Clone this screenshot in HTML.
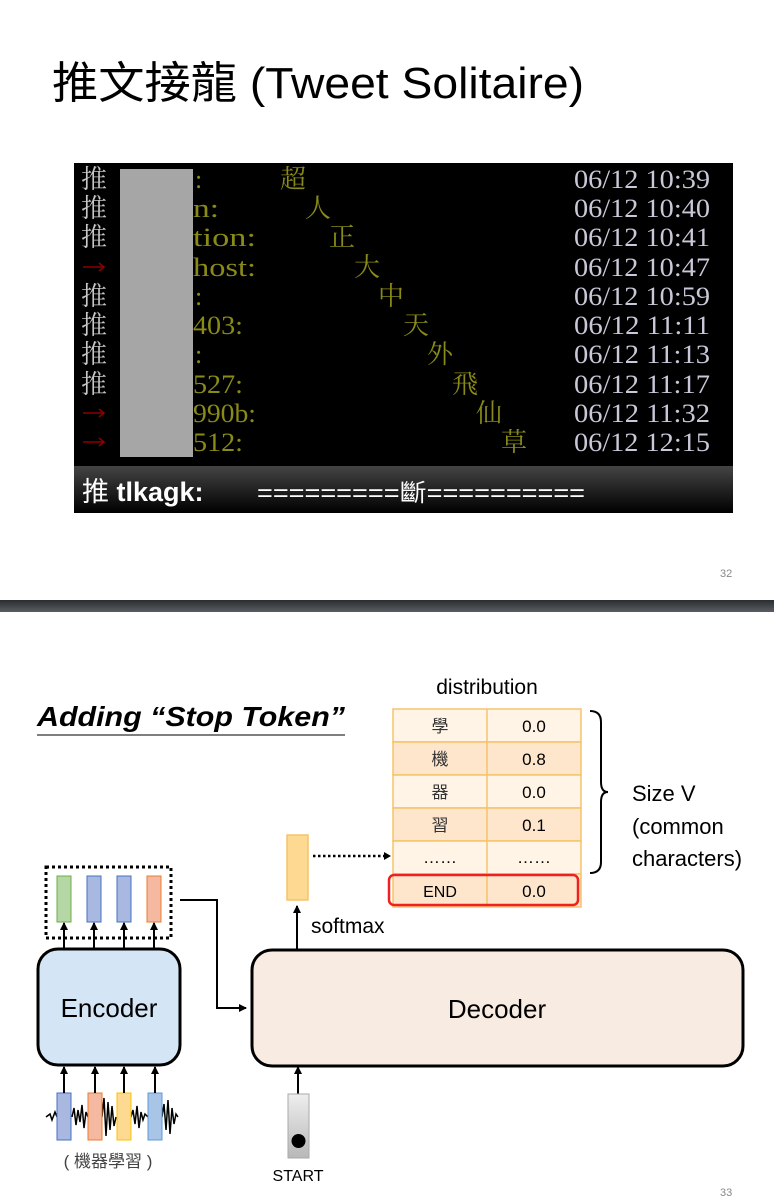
<!DOCTYPE html>
<html><head><meta charset="utf-8"><style>
html,body{margin:0;padding:0;background:#fff;width:774px;height:1202px;overflow:hidden}
svg{display:block}
.s{font-family:"Liberation Sans","Noto Sans CJK TC",sans-serif}
.m{font-family:"Liberation Serif","Noto Serif CJK SC",serif}
</style></head><body>
<svg width="774" height="1202" viewBox="0 0 774 1202" xmlns="http://www.w3.org/2000/svg">
<defs>
<linearGradient id="bar" x1="0" y1="0" x2="0" y2="1"><stop offset="0" stop-color="#444"/><stop offset="1" stop-color="#000"/></linearGradient>
<linearGradient id="sep" x1="0" y1="0" x2="0" y2="1"><stop offset="0" stop-color="#2a2d30"/><stop offset="1" stop-color="#5a5e62"/></linearGradient>
<linearGradient id="gr" x1="0" y1="0" x2="0" y2="1"><stop offset="0" stop-color="#eee"/><stop offset="1" stop-color="#b8b8b8"/></linearGradient>
<marker id="ah" markerWidth="8" markerHeight="8" refX="7" refY="4" orient="auto" markerUnits="userSpaceOnUse"><path d="M0,0 L8,4 L0,8 z" fill="#000"/></marker>
</defs>
<!-- slide 32 -->
<text x="52" y="98" class="s" font-size="44" textLength="532" lengthAdjust="spacingAndGlyphs">推文接龍 (Tweet Solitaire)</text>
<rect x="74" y="163" width="659" height="350" fill="#000"/>
<rect x="120" y="169" width="73" height="288" fill="#a6a6a6"/>
<g class="m" font-size="26">
<g fill="#c8c8c8">
<text x="81" y="188">推</text><text x="81" y="217">推</text><text x="81" y="246">推</text>
<text x="81" y="305">推</text><text x="81" y="334">推</text><text x="81" y="363">推</text><text x="81" y="393">推</text>
</g>
<g stroke="#8b0000" stroke-width="1.5" fill="none">
<path d="M83,267 H104 M99,263 L104,267 L99,271"/>
<path d="M83,413 H104 M99,409 L104,413 L99,417"/>
<path d="M83,442 H104 M99,438 L104,442 L99,446"/>
</g>
<g fill="#8a8a18" lengthAdjust="spacingAndGlyphs">
<text x="195" y="188">:</text>
<text x="193" y="217" textLength="26" lengthAdjust="spacingAndGlyphs">n:</text>
<text x="193" y="246" textLength="63" lengthAdjust="spacingAndGlyphs">tion:</text>
<text x="193" y="276" textLength="63" lengthAdjust="spacingAndGlyphs">host:</text>
<text x="195" y="305">:</text>
<text x="193" y="334" textLength="50" lengthAdjust="spacingAndGlyphs">403:</text>
<text x="195" y="363">:</text>
<text x="193" y="393" textLength="50" lengthAdjust="spacingAndGlyphs">527:</text>
<text x="193" y="422" textLength="63" lengthAdjust="spacingAndGlyphs">990b:</text>
<text x="193" y="451" textLength="50" lengthAdjust="spacingAndGlyphs">512:</text>
<text x="280" y="188">超</text><text x="305" y="217">人</text><text x="329" y="246">正</text><text x="354" y="276">大</text>
<text x="378" y="305">中</text><text x="403" y="334">天</text><text x="427" y="363">外</text><text x="452" y="393">飛</text>
<text x="476" y="422">仙</text><text x="501" y="451">草</text>
</g>
<g fill="#c8c8d8">
<text x="574" y="188" textLength="136" lengthAdjust="spacingAndGlyphs">06/12 10:39</text>
<text x="574" y="217" textLength="136" lengthAdjust="spacingAndGlyphs">06/12 10:40</text>
<text x="574" y="246" textLength="136" lengthAdjust="spacingAndGlyphs">06/12 10:41</text>
<text x="574" y="276" textLength="136" lengthAdjust="spacingAndGlyphs">06/12 10:47</text>
<text x="574" y="305" textLength="136" lengthAdjust="spacingAndGlyphs">06/12 10:59</text>
<text x="574" y="334" textLength="136" lengthAdjust="spacingAndGlyphs">06/12 11:11</text>
<text x="574" y="363" textLength="136" lengthAdjust="spacingAndGlyphs">06/12 11:13</text>
<text x="574" y="393" textLength="136" lengthAdjust="spacingAndGlyphs">06/12 11:17</text>
<text x="574" y="422" textLength="136" lengthAdjust="spacingAndGlyphs">06/12 11:32</text>
<text x="574" y="451" textLength="136" lengthAdjust="spacingAndGlyphs">06/12 12:15</text>
</g>
</g>
<rect x="74" y="466" width="659" height="47" fill="url(#bar)"/>
<text x="82" y="501" class="s" font-size="27" fill="#fff">推 <tspan font-weight="bold">tlkagk:</tspan></text>
<text x="257" y="501" class="s" font-size="24" fill="#fff" textLength="328" lengthAdjust="spacingAndGlyphs">=========斷==========</text>
<text x="720" y="577" class="s" font-size="11" fill="#888">32</text>
<rect x="0" y="600" width="774" height="12" fill="url(#sep)"/>
<!-- slide 33 -->
<text x="37" y="726" class="s" font-size="28" font-weight="bold" font-style="italic" textLength="308" lengthAdjust="spacingAndGlyphs">Adding “Stop Token”</text>
<line x1="37" y1="735" x2="345" y2="735" stroke="#555" stroke-width="1.5"/>
<text x="487" y="694" class="s" font-size="21" text-anchor="middle">distribution</text>
<g stroke="#f5c36a" stroke-width="1.5">
<rect x="393" y="709" width="188" height="33" fill="#fff4e6"/>
<rect x="393" y="742" width="188" height="33" fill="#fde6cc"/>
<rect x="393" y="775" width="188" height="33" fill="#fff4e6"/>
<rect x="393" y="808" width="188" height="33" fill="#fde6cc"/>
<rect x="393" y="841" width="188" height="33" fill="#fff4e6"/>
<rect x="393" y="874" width="188" height="33" fill="#fde6cc"/>
<line x1="487" y1="709" x2="487" y2="907"/>
</g>
<rect x="389" y="875" width="189" height="30" rx="5" fill="none" stroke="#f02020" stroke-width="2.5"/>
<g class="s" font-size="17" text-anchor="middle">
<text x="440" y="732" fill="#333">學</text><text x="534" y="732">0.0</text>
<text x="440" y="765" fill="#333">機</text><text x="534" y="765">0.8</text>
<text x="440" y="798" fill="#333">器</text><text x="534" y="798">0.0</text>
<text x="440" y="831" fill="#333">習</text><text x="534" y="831">0.1</text>
<text x="440" y="863">……</text><text x="534" y="863">……</text>
<text x="440" y="897" font-size="16">END</text><text x="534" y="897">0.0</text>
</g>
<path d="M590,711 Q601,711 601,722 L601,782 Q601,792 608,792 Q601,792 601,802 L601,862 Q601,873 590,873" fill="none" stroke="#000" stroke-width="2"/>
<g class="s" font-size="22">
<text x="632" y="801">Size V</text><text x="632" y="834">(common</text><text x="632" y="866">characters)</text>
</g>
<!-- encoder -->
<rect x="46" y="867" width="125" height="71" fill="none" stroke="#000" stroke-width="3" stroke-dasharray="3,3"/>
<rect x="57" y="876" width="14" height="46" fill="#b5d6a5" stroke="#70ad47"/>
<rect x="87" y="876" width="14" height="46" fill="#a9b8e0" stroke="#4472c4"/>
<rect x="117" y="876" width="14" height="46" fill="#a9b8e0" stroke="#4472c4"/>
<rect x="147" y="876" width="14" height="46" fill="#f5b8a0" stroke="#ed7d31"/>
<g stroke="#000" stroke-width="2" marker-end="url(#ah)">
<line x1="64" y1="948" x2="64" y2="923"/><line x1="94" y1="948" x2="94" y2="923"/>
<line x1="124" y1="948" x2="124" y2="923"/><line x1="154" y1="948" x2="154" y2="923"/>
</g>
<rect x="38" y="949" width="142" height="116" rx="20" fill="#d4e6f6" stroke="#000" stroke-width="3"/>
<text x="109" y="1017" class="s" font-size="26" text-anchor="middle">Encoder</text>
<path d="M180,900 H217 V1008 H246" fill="none" stroke="#000" stroke-width="2" marker-end="url(#ah)"/>
<!-- decoder -->
<rect x="252" y="950" width="491" height="116" rx="20" fill="#f8ebe2" stroke="#000" stroke-width="3"/>
<text x="497" y="1018" class="s" font-size="26" text-anchor="middle">Decoder</text>
<rect x="287" y="835" width="21" height="65" fill="#fdd992" stroke="#f5c36a" stroke-width="1.5"/>
<line x1="313" y1="856" x2="387" y2="856" stroke="#000" stroke-width="2.5" stroke-dasharray="2.5,2.5"/>
<path d="M384,852 L391,856 L384,860 z" fill="#000"/>
<line x1="297" y1="950" x2="297" y2="906" stroke="#000" stroke-width="2" marker-end="url(#ah)"/>
<text x="311" y="933" class="s" font-size="21">softmax</text>
<!-- inputs -->
<path d="M46,1117 L50,1114 L52,1120 L55,1112 L57,1117 M72,1117 L74,1108 L76,1125 L78,1110 L80,1122 L82,1105 L84,1128 L86,1112 L88,1117 M102,1117 L104,1098 L106,1136 L108,1102 L110,1130 L112,1106 L114,1126 L116,1117 M131,1117 L133,1110 L135,1124 L137,1106 L139,1128 L141,1112 L143,1120 L145,1114 L148,1117 M162,1117 L164,1104 L166,1130 L168,1100 L170,1134 L172,1108 L174,1124 L176,1114 L178,1117" fill="none" stroke="#000" stroke-width="1.5"/>
<rect x="57" y="1093" width="14" height="47" fill="#a9b8e0" stroke="#4472c4"/>
<rect x="88" y="1093" width="14" height="47" fill="#f5b8a0" stroke="#ed7d31"/>
<rect x="117" y="1093" width="14" height="47" fill="#fdd992" stroke="#ffc000"/>
<rect x="148" y="1093" width="14" height="47" fill="#a8c4e6" stroke="#5b9bd5"/>
<g stroke="#000" stroke-width="2" marker-end="url(#ah)">
<line x1="64" y1="1093" x2="64" y2="1067"/><line x1="95" y1="1093" x2="95" y2="1067"/>
<line x1="124" y1="1093" x2="124" y2="1067"/><line x1="155" y1="1093" x2="155" y2="1067"/>
<line x1="298" y1="1094" x2="298" y2="1067"/>
</g>
<text x="108" y="1167" class="s" font-size="17" fill="#444" text-anchor="middle">( 機器學習 )</text>
<rect x="288" y="1094" width="21" height="64" fill="url(#gr)" stroke="#aaa"/>
<circle cx="298.5" cy="1141" r="7" fill="#000"/>
<text x="298" y="1181" class="s" font-size="16" text-anchor="middle">START</text>
<text x="720" y="1196" class="s" font-size="11" fill="#888">33</text>
</svg>
</body></html>
